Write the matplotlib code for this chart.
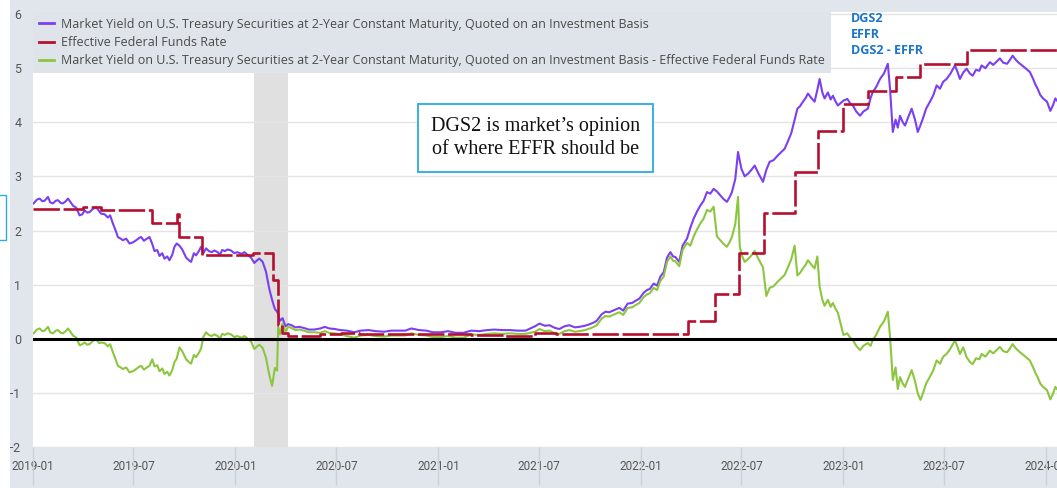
import matplotlib
matplotlib.use('Agg')
import matplotlib.pyplot as plt
import matplotlib.dates as mdates
import matplotlib.transforms as mtransforms
from matplotlib.patches import Rectangle
import numpy as np
import pandas as pd

# DGS2 (dates as placed on the chart)
dgs2_dates = [
    "2019-01-02", "2019-01-08", "2019-01-13", "2019-01-18", "2019-01-22", "2019-01-28",
    "2019-02-01", "2019-02-06", "2019-02-11", "2019-02-15", "2019-02-20", "2019-02-24",
    "2019-03-01", "2019-03-05", "2019-03-10", "2019-03-14", "2019-03-20", "2019-03-26",
    "2019-03-31", "2019-04-04", "2019-04-09", "2019-04-13", "2019-04-19", "2019-04-25",
    "2019-04-30", "2019-05-04", "2019-05-10", "2019-05-16", "2019-05-20", "2019-05-25",
    "2019-05-30", "2019-06-03", "2019-06-08", "2019-06-12", "2019-06-18", "2019-06-24",
    "2019-06-30", "2019-07-06", "2019-07-11", "2019-07-15", "2019-07-20", "2019-07-24",
    "2019-07-30", "2019-08-04", "2019-08-08", "2019-08-13", "2019-08-17", "2019-08-22",
    "2019-08-26", "2019-08-31", "2019-09-04", "2019-09-09", "2019-09-13", "2019-09-17",
    "2019-09-22", "2019-09-27", "2019-10-04", "2019-10-09", "2019-10-13", "2019-10-18",
    "2019-10-22", "2019-10-27", "2019-10-31", "2019-11-04", "2019-11-09", "2019-11-14",
    "2019-11-19", "2019-11-24", "2019-11-30", "2019-12-04", "2019-12-08", "2019-12-13",
    "2019-12-18", "2019-12-24", "2019-12-30",
    "2020-01-04", "2020-01-09", "2020-01-13", "2020-01-17", "2020-01-23", "2020-01-29",
    "2020-02-04", "2020-02-09", "2020-02-13", "2020-02-19", "2020-02-25", "2020-03-02",
    "2020-03-07", "2020-03-12", "2020-03-16", "2020-03-18", "2020-03-21", "2020-03-26",
    "2020-03-31", "2020-04-05", "2020-04-11", "2020-04-18", "2020-04-25", "2020-05-03",
    "2020-05-12", "2020-05-22", "2020-06-02", "2020-06-10", "2020-06-18", "2020-06-28",
    "2020-07-08", "2020-07-20", "2020-08-02", "2020-08-14", "2020-08-28", "2020-09-10",
    "2020-09-25", "2020-10-08", "2020-10-20", "2020-11-02", "2020-11-13", "2020-11-27",
    "2020-12-10", "2020-12-22",
    "2021-01-06", "2021-01-18", "2021-02-01", "2021-02-15", "2021-03-01", "2021-03-15",
    "2021-03-30", "2021-04-12", "2021-04-26", "2021-05-10", "2021-05-24", "2021-06-07",
    "2021-06-24", "2021-07-02", "2021-07-12", "2021-07-20", "2021-07-30", "2021-08-07",
    "2021-08-16", "2021-08-25", "2021-09-04", "2021-09-12", "2021-09-22", "2021-10-01",
    "2021-10-08", "2021-10-13", "2021-10-22", "2021-10-29", "2021-11-05", "2021-11-14",
    "2021-11-23", "2021-11-30", "2021-12-08", "2021-12-16", "2021-12-22", "2021-12-29",
    "2022-01-06", "2022-01-12", "2022-01-17", "2022-01-24", "2022-01-30", "2022-02-05",
    "2022-02-11", "2022-02-17", "2022-02-23", "2022-02-28", "2022-03-04", "2022-03-11",
    "2022-03-17", "2022-03-25", "2022-03-31", "2022-04-06", "2022-04-12", "2022-04-18",
    "2022-04-24", "2022-04-30", "2022-05-06", "2022-05-12", "2022-05-18", "2022-05-24",
    "2022-05-30", "2022-06-05", "2022-06-10", "2022-06-14", "2022-06-20", "2022-06-25",
    "2022-06-28", "2022-07-01", "2022-07-07", "2022-07-13", "2022-07-19", "2022-07-25",
    "2022-08-01", "2022-08-09", "2022-08-15", "2022-08-21", "2022-08-28", "2022-09-05",
    "2022-09-11", "2022-09-17", "2022-09-23", "2022-09-29", "2022-10-05", "2022-10-10",
    "2022-10-15", "2022-10-20", "2022-10-25", "2022-10-29", "2022-11-04", "2022-11-10",
    "2022-11-15", "2022-11-19", "2022-11-24", "2022-11-28", "2022-12-04", "2022-12-09",
    "2022-12-13", "2022-12-18", "2022-12-22",
    "2023-01-01", "2023-01-08", "2023-01-13", "2023-01-18", "2023-01-24", "2023-01-31",
    "2023-02-06", "2023-02-14", "2023-02-19", "2023-02-23", "2023-03-01", "2023-03-08",
    "2023-03-15", "2023-03-22", "2023-03-26", "2023-03-31", "2023-04-05", "2023-04-09",
    "2023-04-13", "2023-04-18", "2023-04-22", "2023-04-28", "2023-05-04", "2023-05-10",
    "2023-05-15", "2023-05-20", "2023-05-24", "2023-05-30", "2023-06-06", "2023-06-12",
    "2023-06-18", "2023-06-24", "2023-06-30", "2023-07-06", "2023-07-13", "2023-07-21",
    "2023-07-26", "2023-07-30", "2023-08-05", "2023-08-11", "2023-08-17", "2023-08-22",
    "2023-08-28", "2023-09-03", "2023-09-07", "2023-09-14", "2023-09-22", "2023-09-28",
    "2023-10-04", "2023-10-10", "2023-10-16", "2023-10-23", "2023-10-28", "2023-11-02",
    "2023-11-08", "2023-11-13", "2023-11-19", "2023-11-25", "2023-12-03", "2023-12-09",
    "2023-12-13", "2023-12-17", "2023-12-22", "2023-12-27",
    "2024-01-03", "2024-01-09", "2024-01-14", "2024-01-18", "2024-01-21",
]
dgs2_values = [
    2.50, 2.57, 2.59, 2.54, 2.55, 2.62,
    2.52, 2.50, 2.55, 2.56, 2.51, 2.50,
    2.54, 2.59, 2.52, 2.46, 2.42, 2.28,
    2.30, 2.37, 2.33, 2.34, 2.40, 2.43,
    2.36, 2.31, 2.30, 2.24, 2.28, 2.13,
    2.00, 1.88, 1.85, 1.82, 1.85, 1.76,
    1.78, 1.82, 1.86, 1.88, 1.81, 1.84,
    1.88, 1.75, 1.62, 1.64, 1.53, 1.58,
    1.48, 1.52, 1.45, 1.55, 1.70, 1.76,
    1.72, 1.65, 1.50, 1.45, 1.42, 1.58,
    1.54, 1.62, 1.70, 1.58, 1.67, 1.62,
    1.60, 1.63, 1.60, 1.55, 1.64, 1.62,
    1.65, 1.63, 1.58,
    1.60, 1.58, 1.57, 1.60, 1.55, 1.50,
    1.40, 1.45, 1.48, 1.42, 1.24, 0.92,
    0.72, 0.55, 0.50, 0.46, 0.33, 0.38,
    0.23, 0.27, 0.25, 0.21, 0.22, 0.20,
    0.17, 0.17, 0.19, 0.22, 0.19, 0.18,
    0.16, 0.15, 0.12, 0.15, 0.16, 0.14,
    0.13, 0.15, 0.15, 0.15, 0.19, 0.16,
    0.15, 0.12,
    0.12, 0.14, 0.11, 0.11, 0.15, 0.14,
    0.16, 0.17, 0.16, 0.16, 0.15, 0.15,
    0.23, 0.28, 0.24, 0.25, 0.20, 0.18,
    0.23, 0.25, 0.21, 0.22, 0.24, 0.27,
    0.30, 0.33, 0.45, 0.50, 0.49, 0.53,
    0.57, 0.52, 0.65, 0.66, 0.70, 0.74,
    0.85, 0.90, 0.92, 1.02, 0.98, 1.15,
    1.23, 1.50, 1.60, 1.52, 1.51, 1.42,
    1.72, 1.85, 2.05, 2.22, 2.35, 2.46,
    2.55, 2.71, 2.68, 2.77, 2.72, 2.65,
    2.58, 2.53, 2.62, 2.71, 2.95, 3.45,
    3.30, 3.14, 3.00, 3.05, 3.12, 3.20,
    3.05, 2.90, 3.12, 3.27, 3.30, 3.39,
    3.45, 3.51, 3.65, 3.80, 4.05, 4.25,
    4.30, 4.38, 4.45, 4.53, 4.45, 4.38,
    4.60, 4.80, 4.55, 4.44, 4.55, 4.42,
    4.49, 4.38, 4.31,
    4.40, 4.43, 4.35, 4.31, 4.20, 4.12,
    4.20, 4.25, 4.45, 4.56, 4.65, 4.80,
    4.90, 5.08, 4.62, 3.82, 4.05, 3.90,
    4.12, 4.00, 3.94, 4.10, 4.25, 4.05,
    3.82, 3.95, 4.06, 4.25, 4.38, 4.50,
    4.68, 4.62, 4.75, 4.80, 4.90, 5.05,
    4.92, 4.80, 4.92, 4.99, 4.90, 4.86,
    4.97, 4.95, 5.05, 5.00, 5.11, 5.06,
    5.12, 5.18, 5.10, 5.08, 5.15, 5.23,
    5.15, 5.10, 5.05, 5.00, 4.93, 4.80,
    4.70, 4.62, 4.50, 4.44,
    4.38, 4.21, 4.32, 4.44, 4.40,
]

# EFFR: date each level starts, and the level
effr_dates = [
    "2019-01-01", "2019-04-01", "2019-05-03", "2019-08-03", "2019-09-18", "2019-09-21",
    "2019-11-02", "2020-02-01", "2020-03-09", "2020-03-18", "2020-03-24", "2020-04-05",
    "2020-06-01", "2020-07-10", "2020-08-10", "2021-03-01", "2021-05-01", "2021-06-24",
    "2021-08-01", "2021-09-01", "2022-03-27", "2022-05-15", "2022-06-26", "2022-08-10",
    "2022-10-06", "2022-11-17", "2023-01-01", "2023-02-15", "2023-04-06", "2023-05-19",
    "2023-08-11",
]
effr_values = [
    2.40, 2.44, 2.38, 2.13, 2.30, 1.88,
    1.55, 1.59, 1.09, 0.25, 0.10, 0.05,
    0.08, 0.10, 0.09, 0.07, 0.06, 0.10,
    0.09, 0.08, 0.33, 0.83, 1.58, 2.33,
    3.08, 3.83, 4.33, 4.58, 4.83, 5.08,
    5.33,
]
end_date = "2024-01-21"

recession = ("2020-02-04", "2020-04-04")

labels = [
    "Market Yield on U.S. Treasury Securities at 2-Year Constant Maturity, Quoted on an Investment Basis",
    "Effective Federal Funds Rate",
    "Market Yield on U.S. Treasury Securities at 2-Year Constant Maturity, Quoted on an Investment Basis - Effective Federal Funds Rate",
]
short_names = ["DGS2", "EFFR", "DGS2 - EFFR"]

# series
d_dates = pd.to_datetime(dgs2_dates)
e_dates = pd.to_datetime(effr_dates)
dgs2 = np.array(dgs2_values)
effr = np.array(effr_values)
idx = np.searchsorted(e_dates.values, d_dates.values, side="right") - 1
spread = dgs2 - effr[idx]
e_x = list(e_dates) + [pd.Timestamp(end_date)]
e_y = list(effr) + [effr[-1]]

W, H = 1057, 488
fig = plt.figure(figsize=(W / 100, H / 100), dpi=100)
fig.patch.set_facecolor("#e1e6ec")

# left white sliver from the screenshot edge
fig.patches.append(Rectangle((0, 0), 10 / W, 1, transform=fig.transFigure,
                             facecolor="white", edgecolor="none", zorder=0))
fig.patches.append(Rectangle((-2 / W, (H - 240) / H), 8 / W, 45 / H,
                             transform=fig.transFigure, facecolor="none",
                             edgecolor="#29abe2", lw=1, zorder=1))

left, right, top, bottom = 33, 1057, 12, 447
ax = fig.add_axes([left / W, (H - bottom) / H, (right - left) / W, (bottom - top) / H])
ax.set_facecolor("white")

ax.axvspan(pd.Timestamp(recession[0]), pd.Timestamp(recession[1]),
           color="#e0e0e0", lw=0, zorder=0)
for v in range(-2, 7):
    ax.axhline(v, color="#e4e4e4", lw=1, zorder=1)
ax.axhline(0, color="black", lw=2.2, zorder=5)

l1, = ax.plot(d_dates, dgs2, color="#7b3ff2", lw=1.5, zorder=3, label=labels[0])
l2, = ax.plot(e_x, e_y, color="#b5102f", lw=1.9, drawstyle="steps-post",
              linestyle=(0, (10, 1.4)), zorder=4, label=labels[1])
l3, = ax.plot(d_dates, spread, color="#8cc63f", lw=1.5, zorder=3, label=labels[2])

ax.set_xlim(pd.Timestamp("2019-01-01"), pd.Timestamp(end_date))
ax.set_ylim(-2, 6 + 2 / 54.1)
for s in ax.spines.values():
    s.set_visible(False)

ax.set_yticks(range(-2, 7))
ax.tick_params(axis="y", length=0, pad=8.5, labelsize=9, labelcolor="#555555")
xt = pd.date_range("2019-01-01", "2024-01-01", freq="6MS")
ax.set_xticks(xt)
ax.xaxis.set_major_formatter(mdates.DateFormatter("%Y-%m"))
ax.tick_params(axis="x", length=0, pad=9, labelsize=8.5, labelcolor="#555555")
for t in ax.get_xticklabels() + ax.get_yticklabels():
    t.set_family("Roboto")

# tick lines in the band under the plot
trans = mtransforms.blended_transform_factory(ax.transData, ax.transAxes)
ax.vlines(xt, -38 / 435, 0, transform=trans, color="#c9d1da", lw=1, clip_on=False)

leg = ax.legend(handles=[l1, l2, l3], loc="upper left", bbox_to_anchor=(0, 1),
                prop={"family": "Open Sans", "size": 9}, labelcolor="#4a4a4a",
                frameon=True, fancybox=False, handlelength=1.2, handletextpad=0.6,
                labelspacing=0.42, borderpad=0.45, borderaxespad=0)
leg.get_frame().set_facecolor("#dfe4ea")
leg.get_frame().set_edgecolor("none")
leg.get_frame().set_alpha(1)
for h in leg.legend_handles:
    h.set_linestyle("-")
    h.set_linewidth(2)
leg.set_zorder(10)

for i, name in enumerate(short_names):
    fig.text(851 / W, 1 - (18 + 16 * i) / H, name, color="#1a76c9",
             fontsize=9, fontweight="bold", family="Open Sans",
             ha="left", va="center")

ax.text(0.4907, 0.7103, "DGS2 is market\u2019s opinion\nof where EFFR should be",
        transform=ax.transAxes, ha="center", va="center", fontsize=14.5,
        family="Liberation Serif", color="#111111", linespacing=1.3, zorder=11,
        bbox=dict(boxstyle="square,pad=0.62", facecolor="white",
                  edgecolor="#29abe2", lw=1.3))

fig.savefig("out.png", dpi=100, facecolor=fig.get_facecolor())
